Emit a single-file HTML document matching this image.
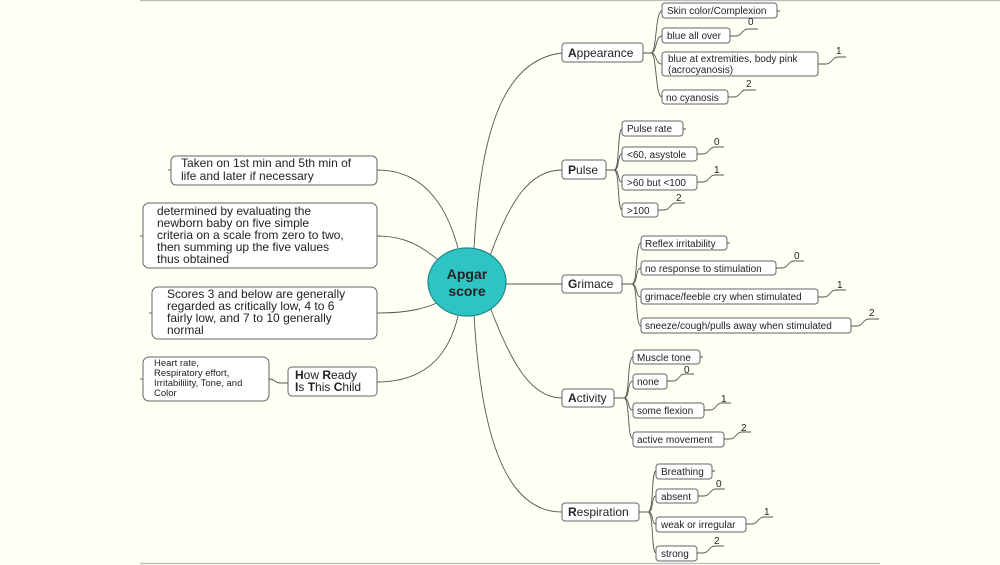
<!DOCTYPE html>
<html><head><meta charset="utf-8"><style>
html,body{margin:0;padding:0;background:#fffff4;}
svg{display:block;}
text{font-family:"Liberation Sans",Arial,sans-serif;fill:#222;}
.b{fill:#fff;stroke:#666;stroke-width:1;}
.l{fill:none;stroke:#555;stroke-width:0.9;}
.c{font-size:10px;}
.m{font-size:12px;}
.s{font-size:10px;}
</style></head><body>
<svg width="1000" height="565" viewBox="0 0 1000 565" xmlns="http://www.w3.org/2000/svg">
<rect width="1000" height="565" fill="#fffff4"/>
<line x1="140" y1="0.5" x2="1000" y2="0.5" stroke="#bbb" stroke-width="1.2"/>
<line x1="140" y1="563.5" x2="880" y2="563.5" stroke="#bbb" stroke-width="1.2"/>

<!-- center connectors -->
<path class="l" d="M474 248 C480 140 500 60 562 53"/>
<path class="l" d="M490 256 C510 200 530 170 562 170"/>
<path class="l" d="M506 284 L562 284"/>
<path class="l" d="M490 307 C510 360 530 398 562 398"/>
<path class="l" d="M474 314 C480 420 500 512 562 512"/>
<path class="l" d="M377 170 C420 170 445 200 458 248"/>
<path class="l" d="M377 236 C410 236 425 250 441 262"/>
<path class="l" d="M377 313 C410 313 425 308 437 303"/>
<path class="l" d="M377 382 C430 382 450 350 458 316"/>
<path class="l" d="M269 379 C275 379 275 383 280 383 L288 383"/>
<path class="l" d="M143 379 h-3"/><path class="l" d="M143 236 h-3"/><path class="l" d="M152 313 h-3"/><path class="l" d="M171 170 h-3"/>

<ellipse cx="467" cy="282" rx="39" ry="34" fill="#2fc4c4" stroke="#1a8a8a" stroke-width="1.2"/>
<text x="467" y="279" text-anchor="middle" style="font-size:14px;font-weight:bold">Apgar</text>
<text x="467" y="296" text-anchor="middle" style="font-size:14px;font-weight:bold">score</text>

<!-- left nodes -->
<rect class="b" x="171" y="156" width="206" height="29" rx="5"/>
<text class="m" x="181" y="167">Taken on 1st min and 5th min of</text>
<text class="m" x="181" y="180">life and later if necessary</text>
<rect class="b" x="143" y="203" width="234" height="65" rx="6"/>
<text class="m" x="157" y="215">determined by evaluating the</text>
<text class="m" x="157" y="227">newborn baby on five simple</text>
<text class="m" x="157" y="239">criteria on a scale from zero to two,</text>
<text class="m" x="157" y="251">then summing up the five values</text>
<text class="m" x="157" y="263">thus obtained</text>
<rect class="b" x="152" y="287" width="225" height="52" rx="6"/>
<text class="m" x="167" y="298">Scores 3 and below are generally</text>
<text class="m" x="167" y="310">regarded as critically low, 4 to 6</text>
<text class="m" x="167" y="322">fairly low, and 7 to 10 generally</text>
<text class="m" x="167" y="334">normal</text>
<rect class="b" x="288" y="367" width="89" height="29" rx="4"/>
<text class="m" x="295" y="379"><tspan font-weight="bold">H</tspan>ow <tspan font-weight="bold">R</tspan>eady</text>
<text class="m" x="295" y="391"><tspan font-weight="bold">I</tspan>s <tspan font-weight="bold">T</tspan>his <tspan font-weight="bold">C</tspan>hild</text>
<rect class="b" x="143" y="357" width="126" height="44" rx="6"/>
<text x="154" y="366" style="font-size:9.5px">Heart rate,</text>
<text x="154" y="376" style="font-size:9.5px">Respiratory effort,</text>
<text x="154" y="386" style="font-size:9.5px">Irritabilility, Tone, and</text>
<text x="154" y="396" style="font-size:9.5px">Color</text>

<!-- Appearance -->
<rect class="b" x="562" y="43" width="81" height="19" rx="3"/>
<text class="m" x="568" y="57"><tspan font-weight="bold">A</tspan>ppearance</text>
<path class="l" d="M643 53 h8 M651 53 C657 53 655 11 662 11 M651 53 C657 53 655 36 662 36 M651 53 C657 53 655 64 662 64 M651 53 C657 53 655 97 662 97"/>
<rect class="b" x="662" y="3" width="115" height="15" rx="3"/><text class="c" x="667" y="14">Skin color/Complexion</text>
<rect class="b" x="662" y="28" width="68" height="15" rx="3"/><text class="c" x="667" y="39">blue all over</text>
<rect class="b" x="662" y="52" width="156" height="24" rx="3"/><text class="c" x="668" y="62">blue at extremities, body pink</text><text class="c" x="668" y="73">(acrocyanosis)</text>
<rect class="b" x="662" y="90" width="66" height="14" rx="3"/><text class="c" x="666" y="101">no cyanosis</text>
<path class="l" d="M777 11 h3 M730 36 h6 c6 0 6 -7 12 -7 h10 M818 64 h8 c6 0 6 -7 12 -7 h8 M728 97 h6 c6 0 6 -7 12 -7 h10"/>
<text class="s" x="748" y="25">0</text><text class="s" x="836" y="54">1</text><text class="s" x="746" y="87">2</text>

<!-- Pulse -->
<rect class="b" x="562" y="160" width="44" height="19" rx="3"/>
<text class="m" x="568" y="174"><tspan font-weight="bold">P</tspan>ulse</text>
<path class="l" d="M606 170 h8 M614 170 C620 170 617 129 622 129 M614 170 C620 170 617 154 622 154 M614 170 C620 170 617 182 622 182 M614 170 C620 170 617 210 622 210"/>
<rect class="b" x="622" y="121" width="61" height="15" rx="3"/><text class="c" x="627" y="132">Pulse rate</text>
<rect class="b" x="622" y="147" width="75" height="14" rx="3"/><text class="c" x="627" y="158">&lt;60, asystole</text>
<rect class="b" x="622" y="175" width="75" height="15" rx="3"/><text class="c" x="627" y="186">&gt;60 but &lt;100</text>
<rect class="b" x="622" y="203" width="36" height="14" rx="3"/><text class="c" x="627" y="214">&gt;100</text>
<path class="l" d="M683 129 h3 M697 154 h6 c6 0 6 -7 12 -7 h9 M697 182 h6 c6 0 6 -7 12 -7 h9 M658 210 h6 c6 0 6 -7 12 -7 h9"/>
<text class="s" x="714" y="145">0</text><text class="s" x="714" y="173">1</text><text class="s" x="676" y="201">2</text>

<!-- Grimace -->
<rect class="b" x="562" y="275" width="60" height="18" rx="3"/>
<text class="m" x="568" y="288"><tspan font-weight="bold">G</tspan>rimace</text>
<path class="l" d="M622 284 h10 M632 284 C638 284 635 243 641 243 M632 284 C638 284 635 268 641 268 M632 284 C638 284 635 297 641 297 M632 284 C638 284 635 326 641 326"/>
<rect class="b" x="641" y="236" width="86" height="14" rx="3"/><text class="c" x="645" y="247">Reflex irritability</text>
<rect class="b" x="641" y="261" width="135" height="14" rx="3"/><text class="c" x="645" y="272">no response to stimulation</text>
<rect class="b" x="641" y="289" width="177" height="15" rx="3"/><text class="c" x="645" y="300">grimace/feeble cry when stimulated</text>
<rect class="b" x="641" y="318" width="210" height="15" rx="3"/><text class="c" x="645" y="329">sneeze/cough/pulls away when stimulated</text>
<path class="l" d="M727 243 h3 M776 268 h6 c6 0 6 -7 12 -7 h10 M818 297 h6 c6 0 6 -7 12 -7 h10 M851 326 h6 c6 0 6 -7 12 -7 h10"/>
<text class="s" x="794" y="259">0</text><text class="s" x="837" y="288">1</text><text class="s" x="869" y="316">2</text>

<!-- Activity -->
<rect class="b" x="562" y="389" width="52" height="18" rx="3"/>
<text class="m" x="568" y="402"><tspan font-weight="bold">A</tspan>ctivity</text>
<path class="l" d="M614 398 h10 M624 398 C630 398 627 357 633 357 M624 398 C630 398 627 381 633 381 M624 398 C630 398 627 410 633 410 M624 398 C630 398 627 439 633 439"/>
<rect class="b" x="633" y="350" width="67" height="14" rx="3"/><text class="c" x="637" y="361">Muscle tone</text>
<rect class="b" x="633" y="374" width="34" height="15" rx="3"/><text class="c" x="637" y="385">none</text>
<rect class="b" x="633" y="403" width="71" height="15" rx="3"/><text class="c" x="637" y="414">some flexion</text>
<rect class="b" x="633" y="432" width="91" height="15" rx="3"/><text class="c" x="637" y="443">active movement</text>
<path class="l" d="M700 357 h3 M667 381 h6 c6 0 6 -7 12 -7 h9 M704 410 h6 c6 0 6 -7 12 -7 h9 M724 439 h6 c6 0 6 -7 12 -7 h9"/>
<text class="s" x="684" y="373">0</text><text class="s" x="721" y="402">1</text><text class="s" x="741" y="431">2</text>

<!-- Respiration -->
<rect class="b" x="562" y="503" width="77" height="18" rx="3"/>
<text class="m" x="568" y="516"><tspan font-weight="bold">R</tspan>espiration</text>
<path class="l" d="M639 512 h9 M648 512 C654 512 651 471 656 471 M648 512 C654 512 651 496 656 496 M648 512 C654 512 651 524 656 524 M648 512 C654 512 651 553 656 553"/>
<rect class="b" x="656" y="464" width="56" height="15" rx="3"/><text class="c" x="661" y="475">Breathing</text>
<rect class="b" x="656" y="489" width="42" height="14" rx="3"/><text class="c" x="661" y="500">absent</text>
<rect class="b" x="656" y="517" width="90" height="15" rx="3"/><text class="c" x="661" y="528">weak or irregular</text>
<rect class="b" x="656" y="546" width="41" height="15" rx="3"/><text class="c" x="661" y="557">strong</text>
<path class="l" d="M712 471 h3 M698 496 h6 c6 0 6 -7 12 -7 h9 M746 524 h6 c6 0 6 -7 12 -7 h9 M697 553 h6 c6 0 6 -7 12 -7 h9"/>
<text class="s" x="716" y="487">0</text><text class="s" x="764" y="515">1</text><text class="s" x="714" y="544">2</text>
</svg>
</body></html>
